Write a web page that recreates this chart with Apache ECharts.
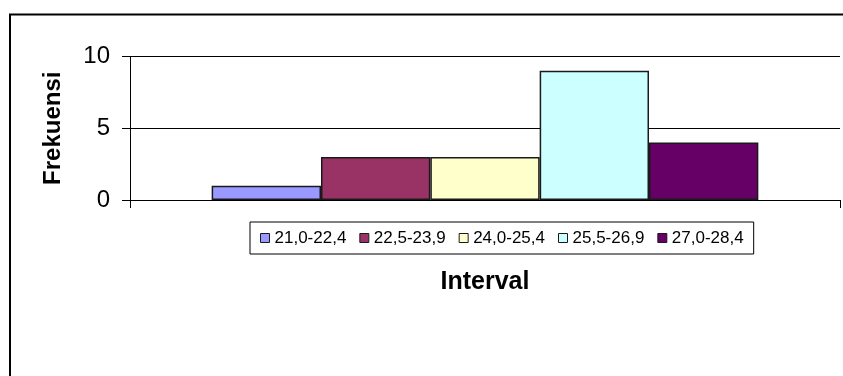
<!DOCTYPE html>
<html>
<head>
<meta charset="utf-8">
<script src="https://cdn.jsdelivr.net/npm/echarts@6/dist/echarts.min.js"></script>
<style>
  html, body { margin: 0; padding: 0; background: #ffffff; }
  #chart { width: 843px; height: 376px; }
</style>
</head>
<body>
<div id="chart"></div>
<script>
// Class intervals and their frequencies
const intervals = ['21,0-22,4', '22,5-23,9', '24,0-25,4', '25,5-26,9', '27,0-28,4'];
const frequencies = [1, 3, 3, 9, 4];
const barColors = ['#9999FF', '#993366', '#FFFFCC', '#CCFFFF', '#660066'];
const categories = [''];
const yMin = 0, yMax = 10, yStep = 5;

const FONT = '"Liberation Sans", Arial, sans-serif';

const chart = echarts.init(document.getElementById('chart'), null, { renderer: 'canvas' });

const series = intervals.map((name, i) => ({
  name: name,
  type: 'bar',
  data: [frequencies[i]],
  barGap: '0%',
  barCategoryGap: '23%',
  itemStyle: { color: barColors[i], borderColor: '#1a1a1a', borderWidth: 1.5 },
  emphasis: { disabled: true }
}));

chart.setOption({
  animation: false,
  backgroundColor: '#ffffff',
  graphic: [{
    type: 'rect',
    shape: { x: 10, y: 14.5, width: 1000, height: 1000 },
    style: { fill: 'none', stroke: '#000000', lineWidth: 2 },
    silent: true,
    z: -1
  }],
  grid: { left: 130, right: 3, top: 56.5, bottom: 176, containLabel: false },
  legend: {
    data: intervals,
    left: 250,
    top: 222,
    orient: 'horizontal',
    itemWidth: 9,
    itemHeight: 9,
    itemGap: 13,
    padding: [7, 10],
    borderColor: '#000000',
    borderWidth: 1,
    icon: 'rect',
    itemStyle: { borderWidth: 1, borderColor: '#1a1a1a' },
    textStyle: { fontFamily: FONT, fontSize: 17, color: '#000000', lineHeight: 18 }
  },
  xAxis: {
    type: 'category',
    data: categories,
    name: 'Interval',
    nameLocation: 'middle',
    nameGap: 70,
    nameTextStyle: { fontFamily: FONT, fontSize: 25, fontWeight: 'bold', color: '#000000' },
    axisLine: { show: true, lineStyle: { color: '#000000', width: 1 } },
    axisTick: { show: true, length: 8, lineStyle: { color: '#000000' } },
    axisLabel: { show: false },
    splitLine: { show: false }
  },
  yAxis: {
    type: 'value',
    min: yMin,
    max: yMax,
    interval: yStep,
    name: 'Frekuensi',
    nameLocation: 'middle',
    nameGap: 65,
    nameRotate: 90,
    nameTextStyle: { fontFamily: FONT, fontSize: 24, fontWeight: 'bold', color: '#000000' },
    axisLine: { show: true, lineStyle: { color: '#000000', width: 1 } },
    axisTick: { show: true, length: 8, lineStyle: { color: '#000000' } },
    axisLabel: { margin: 20, fontFamily: FONT, fontSize: 24, color: '#000000' },
    splitLine: { show: true, lineStyle: { color: '#000000', width: 1 } }
  },
  series: series
});
</script>
</body>
</html>
